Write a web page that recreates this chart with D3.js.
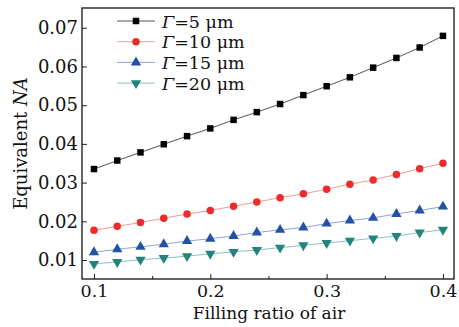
<!DOCTYPE html>
<html>
<head>
<meta charset="utf-8">
<script src="https://cdn.jsdelivr.net/npm/d3@7"></script>
<style>
  body { margin: 0; background: #fff; }
  text { font-family: "DejaVu Serif", "Liberation Serif", serif; }
</style>
</head>
<body>
<svg id="chart" width="459" height="327"></svg>
<script>
const fillRatio = [0.10, 0.12, 0.14, 0.16, 0.18, 0.20, 0.22, 0.24, 0.26, 0.28, 0.30, 0.32, 0.34, 0.36, 0.38, 0.40];
const na5 = [0.0335, 0.0357, 0.0378, 0.0399, 0.0420, 0.0440, 0.0462, 0.0482, 0.0503, 0.0526, 0.0549, 0.0572, 0.0597, 0.0622, 0.0649, 0.0679];
const na10 = [0.0177, 0.0187, 0.0197, 0.0208, 0.0219, 0.0228, 0.0239, 0.0250, 0.0261, 0.0271, 0.0283, 0.0296, 0.0307, 0.0321, 0.0336, 0.0350];
const na15 = [0.0120, 0.0128, 0.0134, 0.0141, 0.0149, 0.0155, 0.0162, 0.0171, 0.0178, 0.0184, 0.0194, 0.0202, 0.0209, 0.0219, 0.0228, 0.0238];
const na20 = [0.0090, 0.0095, 0.0101, 0.0105, 0.0110, 0.0116, 0.0121, 0.0126, 0.0132, 0.0138, 0.0144, 0.0150, 0.0156, 0.0162, 0.0171, 0.0178];
const seriesNames = ['5', '10', '15', '20'];
const xTicks = [0.1, 0.2, 0.3, 0.4];
const yTicks = [0.01, 0.02, 0.03, 0.04, 0.05, 0.06, 0.07];

const series = [
  { name: seriesNames[0], values: na5, symbol: d3.symbolSquare, size: 42, rot: 0, fill: '#000', line: '#555' },
  { name: seriesNames[1], values: na10, symbol: d3.symbolCircle, size: 44, rot: 0, fill: '#ee2a2a', line: '#f39a92' },
  { name: seriesNames[2], values: na15, symbol: d3.symbolTriangle, size: 46, rot: 0, fill: '#2152a6', line: '#8ea3d6' },
  { name: seriesNames[3], values: na20, symbol: d3.symbolTriangle, size: 46, rot: 180, fill: '#23847e', line: '#8cc2bc' }
];

const margin = { left: 82, top: 8, right: 5, bottom: 48 };
const W = 459, H = 327;
const svg = d3.select('#chart');

const x = d3.scaleLinear().domain([0.0897, 0.4095]).range([margin.left, W - margin.right]);
const y = d3.scaleLinear().domain([0.0051, 0.0751]).range([H - margin.bottom, margin.top]);

// axes, ticks inside
svg.append('g')
  .attr('transform', `translate(0,${H - margin.bottom})`)
  .call(d3.axisBottom(x).tickValues(xTicks).tickSizeInner(-5).tickSizeOuter(0).tickPadding(6).tickFormat(d3.format('.1f')))
  .call(g => g.select('.domain').remove())
  .call(g => g.selectAll('text').attr('font-size', 17.5).attr('fill', '#111'));

svg.append('g')
  .attr('transform', `translate(0,${H - margin.bottom})`)
  .call(d3.axisBottom(x).tickValues([0.15, 0.25, 0.35]).tickSizeInner(-3).tickSizeOuter(0).tickFormat(''))
  .call(g => g.select('.domain').remove());

svg.append('g')
  .attr('transform', `translate(${margin.left},0)`)
  .call(d3.axisLeft(y).tickValues(yTicks).tickSizeInner(-5).tickSizeOuter(0).tickPadding(4).tickFormat(d3.format('.2f')))
  .call(g => g.select('.domain').remove())
  .call(g => g.selectAll('text').attr('font-size', 18).attr('fill', '#111'));

svg.selectAll('.tick line').attr('stroke', '#222');

// frame
svg.append('rect')
  .attr('x', margin.left).attr('y', margin.top)
  .attr('width', W - margin.right - margin.left)
  .attr('height', H - margin.bottom - margin.top)
  .attr('fill', 'none').attr('stroke', '#111').attr('stroke-width', 1.3);

// lines + markers
const line = d3.line().x((d, i) => x(fillRatio[i])).y(d => y(d));
series.forEach(s => {
  svg.append('path').datum(s.values)
    .attr('d', line).attr('fill', 'none')
    .attr('stroke', s.line).attr('stroke-width', 1);
  svg.append('g').selectAll('path')
    .data(s.values).enter().append('path')
    .attr('d', d3.symbol().type(s.symbol).size(s.size))
    .attr('transform', (d, i) => `translate(${x(fillRatio[i])},${y(d)}) rotate(${s.rot})`)
    .attr('fill', s.fill);
});

// legend
const leg = svg.append('g').attr('transform', 'translate(117,21)');
series.forEach((s, i) => {
  const row = leg.append('g').attr('transform', `translate(0,${i * 20.7})`);
  row.append('line').attr('x1', 0).attr('x2', 38).attr('y1', 0).attr('y2', 0)
    .attr('stroke', s.line).attr('stroke-width', 1);
  row.append('path')
    .attr('d', d3.symbol().type(s.symbol).size(s.size))
    .attr('transform', `translate(19,0) rotate(${s.rot})`)
    .attr('fill', s.fill);
  const t = row.append('text').attr('x', 45).attr('y', 6.5).attr('font-size', 17.5).attr('fill', '#111');
  t.append('tspan').attr('font-style', 'italic').text('Γ');
  t.append('tspan').text(`=${s.name} μm`);
});

// axis titles
svg.append('text')
  .attr('x', 269).attr('y', 319)
  .attr('text-anchor', 'middle').attr('font-size', 17).attr('fill', '#111')
  .text('Filling ratio of air');

const yt = svg.append('text')
  .attr('transform', `translate(27,${(margin.top + H - margin.bottom) / 2}) rotate(-90)`)
  .attr('text-anchor', 'middle').attr('font-size', 18).attr('fill', '#111');
yt.append('tspan').text('Equivalent ');
yt.append('tspan').attr('font-style', 'italic').text('NA');
</script>
</body>
</html>
